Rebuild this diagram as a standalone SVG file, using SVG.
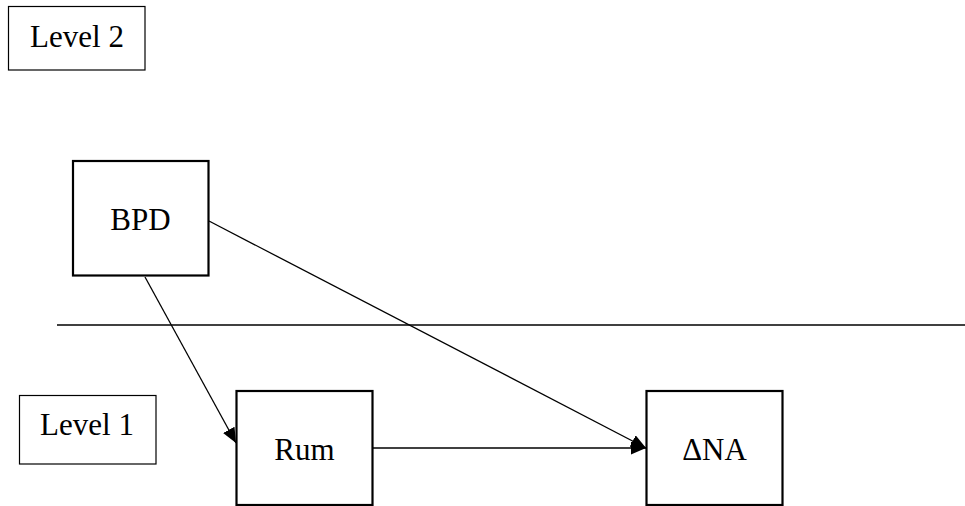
<svg xmlns="http://www.w3.org/2000/svg" width="965" height="506" viewBox="0 0 965 506">
  <style>
    .lvl { fill: #fff; stroke: #000; stroke-width: 1.2; }
    .box { fill: #fff; stroke: #000; stroke-width: 2.2; }
    .lbl { font-family: "Liberation Serif", "Times New Roman", serif; font-size: 31px; fill: #000; text-anchor: middle; }
    .edge { stroke: #000; stroke-width: 1.3; fill: none; }
  </style>
  <defs>
    <marker id="head" markerUnits="userSpaceOnUse" markerWidth="16" markerHeight="14" refX="15" refY="6.5" orient="auto">
      <path d="M0,0 L15,6.5 L0,13 z" fill="#000"/>
    </marker>
  </defs>
  <rect width="965" height="506" fill="#fff"/>

  <!-- level divider -->
  <line x1="57" y1="325" x2="965" y2="325" stroke="#000" stroke-width="1.5"/>

  <g id="level2">
    <rect class="lvl" x="8.5" y="6.5" width="136.5" height="63.5"/>
    <text class="lbl" x="77" y="46.5">Level 2</text>
  </g>

  <g id="level1">
    <rect class="lvl" x="19.5" y="395.5" width="136.5" height="68.5"/>
    <text class="lbl" x="87" y="435">Level 1</text>
  </g>

  <g id="connectors">
    <line class="edge" x1="145" y1="277" x2="236" y2="443" marker-end="url(#head)"/>
    <line class="edge" x1="209" y1="221" x2="646" y2="448" marker-end="url(#head)"/>
    <line class="edge" x1="373" y1="448" x2="646" y2="448" marker-end="url(#head)"/>
  </g>

  <g id="bpd">
    <rect class="box" x="73" y="161" width="135.5" height="114.5"/>
    <text class="lbl" x="140.5" y="230">BPD</text>
  </g>

  <g id="rum">
    <rect class="box" x="236.5" y="391" width="136" height="114"/>
    <text class="lbl" x="304.5" y="460">Rum</text>
  </g>

  <g id="dna">
    <rect class="box" x="646.5" y="391" width="136" height="114"/>
    <text class="lbl" x="714.5" y="460">ΔNA</text>
  </g>
</svg>
